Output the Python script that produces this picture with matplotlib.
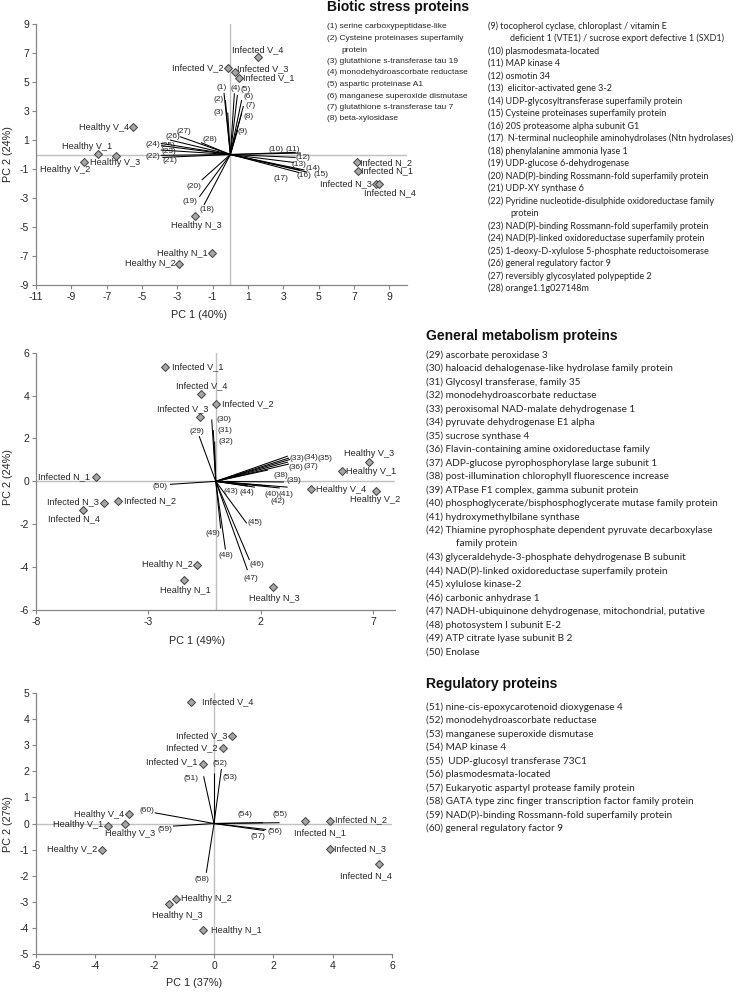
import matplotlib.pyplot as plt

W, H = 742, 992

# ---------------- Biotic stress proteins ----------------
bio_samples = ["Infected V_4", "Infected V_2", "Infected V_3", "Infected V_1",
               "Healthy V_4", "Healthy V_1", "Healthy V_3", "Healthy V_2",
               "Healthy N_3", "Healthy N_1", "Healthy N_2",
               "Infected N_2", "Infected N_1", "Infected N_3", "Infected N_4"]
bio_pc1 = [1.55, -0.11, 0.26, 0.47, -5.49, -7.47, -6.49, -8.28,
           -1.98, -1.04, -2.89, 7.15, 7.24, 8.24, 8.43]
bio_pc2 = [6.75, 5.99, 5.71, 5.30, 1.87, 0.01, -0.10, -0.49,
           -4.24, -6.82, -7.55, -0.54, -1.14, -2.03, -2.03]
bio_load_ids = list(range(1, 29))
bio_load_pc1 = [-0.36, -0.28, -0.15, 0.23, 0.40, 0.64, 0.74, 0.64, 0.42,
                3.70, 4.00, 3.70, 3.60, 4.20, 4.33, 3.94, 3.90,
                -1.49, -1.75, -1.62, -3.85, -3.94, -3.94, -3.94, -3.91, -3.42, -2.85, -1.66]
bio_load_pc2 = [4.26, 3.76, 2.89, 4.22, 4.10, 3.76, 3.34, 2.84, 1.69,
                0.15, 0.10, -0.20, -0.55, -1.07, -1.21, -1.07, -1.25,
                -3.48, -2.91, -1.76, -0.20, -0.06, 0.31, 0.77, 0.61, 1.00, 1.23, 0.82]

# ---------------- General metabolism proteins ----------------
gen_samples = ["Infected V_1", "Infected V_4", "Infected V_2", "Infected V_3",
               "Infected N_1", "Infected N_3", "Infected N_2", "Infected N_4",
               "Healthy N_2", "Healthy N_1", "Healthy N_3",
               "Healthy V_3", "Healthy V_1", "Healthy V_4", "Healthy V_2"]
gen_pc1 = [-2.27, -0.64, 0.01, -0.70, -5.34, -4.96, -4.34, -5.89,
           -0.82, -1.41, 2.56, 6.81, 5.63, 4.22, 7.12]
gen_pc2 = [5.35, 4.07, 3.60, 2.98, 0.21, -1.01, -0.92, -1.34,
           -3.88, -4.58, -4.95, 0.91, 0.47, -0.37, -0.47]
gen_load_ids = list(range(29, 51))
gen_load_pc1 = [-0.74, -0.18, -0.11, -0.05, 3.21, 3.26, 3.30, 3.21, 3.26, 2.33, 3.04,
                2.40, 3.20, 2.85, 1.43, 1.74, 1.38, 1.50, 1.41, 0.43, 0.22, -2.04]
gen_load_pc2 = [2.11, 2.89, 2.39, 1.85, 1.18, 1.09, 1.02, 0.90, 0.81, 0.53, -0.03,
                -0.22, -0.27, -0.31, -0.22, -0.27, -1.96, -3.67, -4.14, -3.18, -2.20, -0.14]

# ---------------- Regulatory proteins ----------------
reg_samples = ["Infected V_4", "Infected V_3", "Infected V_2", "Infected V_1",
               "Healthy V_4", "Healthy V_1", "Healthy V_3", "Healthy V_2",
               "Healthy N_2", "Healthy N_3", "Healthy N_1",
               "Infected N_1", "Infected N_2", "Infected N_3", "Infected N_4"]
reg_pc1 = [-0.79, 0.62, 0.30, -0.37, -2.87, -3.57, -2.99, -3.77,
           -1.29, -1.53, -0.37, 3.08, 3.92, 3.92, 5.55]
reg_pc2 = [4.66, 3.37, 2.89, 2.29, 0.36, -0.11, -0.01, -1.01,
           -2.90, -3.10, -4.07, 0.08, 0.09, -0.98, -1.55]
reg_load_ids = list(range(51, 61))
reg_load_pc1 = [-0.35, 0.00, 0.25, 1.65, 2.21, 1.76, 1.70, -0.26, -1.38, -2.00]
reg_load_pc2 = [1.81, 1.92, 2.09, 0.03, 0.03, -0.23, -0.27, -1.89, -0.10, 0.41]

# ---------------- protein names ----------------
bio_names_a = ["serine carboxypeptidase-like",
               "Cysteine proteinases superfamily\nprotein",
               "glutathione s-transferase tau 19",
               "monodehydroascorbate reductase",
               "aspartic proteinase A1",
               "manganese superoxide dismutase",
               "glutathione s-transferase tau 7",
               "beta-xylosidase"]
bio_names_b = ["tocopherol cyclase, chloroplast / vitamin E\ndeficient 1 (VTE1) / sucrose export defective 1 (SXD1)",
               "plasmodesmata-located",
               "MAP kinase 4",
               "osmotin 34",
               " elicitor-activated gene 3-2",
               "UDP-glycosyltransferase superfamily protein",
               "Cysteine proteinases superfamily protein",
               "20S proteasome alpha subunit G1",
               " N-terminal nucleophile aminohydrolases (Ntn hydrolases)",
               "phenylalanine ammonia lyase 1",
               "UDP-glucose 6-dehydrogenase",
               "NAD(P)-binding Rossmann-fold superfamily protein",
               "UDP-XY synthase 6",
               "Pyridine nucleotide-disulphide oxidoreductase family\nprotein",
               "NAD(P)-binding Rossmann-fold superfamily protein",
               "NAD(P)-linked oxidoreductase superfamily protein",
               "1-deoxy-D-xylulose 5-phosphate reductoisomerase",
               "general regulatory factor 9",
               "reversibly glycosylated polypeptide 2",
               "orange1.1g027148m"]
gen_names = ["ascorbate peroxidase 3",
             "haloacid dehalogenase-like hydrolase family protein",
             "Glycosyl transferase, family 35",
             "monodehydroascorbate reductase",
             "peroxisomal NAD-malate dehydrogenase 1",
             "pyruvate dehydrogenase E1 alpha",
             "sucrose synthase 4",
             "Flavin-containing amine oxidoreductase family",
             "ADP-glucose pyrophosphorylase large subunit 1",
             "post-illumination chlorophyll fluorescence increase",
             "ATPase F1 complex, gamma subunit protein",
             "phosphoglycerate/bisphosphoglycerate mutase family protein",
             "hydroxymethylbilane synthase",
             "Thiamine pyrophosphate dependent pyruvate decarboxylase\nfamily protein",
             "glyceraldehyde-3-phosphate dehydrogenase B subunit",
             "NAD(P)-linked oxidoreductase superfamily protein",
             "xylulose kinase-2",
             "carbonic anhydrase 1",
             "NADH-ubiquinone dehydrogenase, mitochondrial, putative",
             "photosystem I subunit E-2",
             "ATP citrate lyase subunit B 2",
             "Enolase"]
reg_names = ["nine-cis-epoxycarotenoid dioxygenase 4",
             "monodehydroascorbate reductase",
             "manganese superoxide dismutase",
             "MAP kinase 4",
             " UDP-glucosyl transferase 73C1",
             "plasmodesmata-located",
             "Eukaryotic aspartyl protease family protein",
             "GATA type zinc finger transcription factor family protein",
             "NAD(P)-binding Rossmann-fold superfamily protein",
             "general regulatory factor 9"]

# label placement (pixel offsets from the point)
bio_lab = [(0, 7, 'center'), (-5, 0, 'right'), (2, 3, 'left'), (4, 0, 'left'),
           (-4, 0, 'right'), (-11, 8, 'center'), (-1, -7, 'center'), (-19, -8, 'center'),
           (1, -10, 'center'), (-4, 0, 'right'), (-4, 0, 'right'),
           (3, 0, 'left'), (3, 0, 'left'), (-4, 0, 'right'), (11, -9, 'center')]
bio_vlab = [(-2, 5), (-7, 0), (-9, 0), (1, 5), (8, 6), (7, 3), (7, 1), (7, -3), (5, -2),
            (-20, 3), (-8, 4), (7, 0), (5, -2), (8, 2), (14, -2), (4, -5), (-18, -6),
            (3, -5), (-9, -5), (-8, -6), (8, -3), (-8, -1), (8, -1), (-8, -1), (7, 0),
            (3, 3), (4, 5), (9, 3)]
gen_lab = [(7, 0, 'left'), (0, 8, 'center'), (6, 0, 'left'), (-17, 9, 'center'),
           (-6, 0, 'right'), (-5, 1, 'right'), (6, 0, 'left'), (-9, -9, 'center'),
           (-5, 0, 'right'), (1, -11, 'center'), (1, -11, 'center'),
           (0, 8, 'center'), (4, 0, 'left'), (5, 0, 'left'), (-1, -8, 'center')]
gen_vlab = [(-2, 5), (12, 0), (12, 0), (11, 0), (9, -2), (22, 0), (35, 1), (8, -5),
            (22, -3), (13, -6), (10, 1), (2, -8), (-2, -7), (-2, -14), (-17, -5),
            (-8, -5), (8, 1), (7, -4), (3, -8), (0, -6), (-8, -5), (-10, -2)]
reg_lab = [(11, 0, 'left'), (-5, 0, 'right'), (-5, 0, 'right'), (-6, 2, 'right'),
           (-5, 0, 'right'), (-5, 2, 'right'), (5, -10, 'center'), (-5, 0, 'right'),
           (5, 1, 'left'), (9, -11, 'center'), (8, -1, 'left'),
           (15, -11, 'center'), (5, 1, 'left'), (4, 0, 'left'), (-13, -12, 'center')]
reg_vlab = [(-13, -2), (6, 10), (9, -9), (-18, 8), (0, 8), (9, -2), (-6, -6),
            (-4, -7), (-8, -3), (-8, 2)]

plt.rcParams['font.family'] = ['Liberation Sans', 'DejaVu Sans']
plt.rcParams['axes.unicode_minus'] = False
fig = plt.figure(figsize=(W / 100, H / 100), dpi=100)

AX_GRAY = '#868686'
TXT = '#262626'


def panel(rect_px, xlim, ylim, xticks, yticks, xlabel, ylabel, xlab_pos, ylab_pos,
          names, px, py, lab, ids, lx, ly, vlab):
    l, r, t, b = rect_px
    ax = fig.add_axes([l / W, 1 - b / H, (r - l) / W, (b - t) / H])
    ax.set_xlim(*xlim)
    ax.set_ylim(*ylim)
    ax.set_xticks(xticks)
    ax.set_yticks(yticks)
    for s in ['top', 'right']:
        ax.spines[s].set_visible(False)
    for s in ['left', 'bottom']:
        ax.spines[s].set_color(AX_GRAY)
        ax.spines[s].set_linewidth(0.9)
    ax.tick_params(direction='out', length=3, width=0.8, color=AX_GRAY,
                   labelsize=7.5, labelcolor=TXT, pad=2)
    ax.axhline(0, color='#c0c0c0', lw=1.0, zorder=0)
    ax.axvline(0, color='#c0c0c0', lw=1.0, zorder=0)
    ax.set_xlabel(xlabel, fontsize=7.8, color=TXT)
    ax.set_ylabel(ylabel, fontsize=7.8, color=TXT)
    ax.xaxis.set_label_coords(*xlab_pos)
    ax.yaxis.set_label_coords(*ylab_pos)

    for i, x, y, (dx, dy) in zip(ids, lx, ly, vlab):
        ax.plot([0, x], [0, y], color='black', lw=0.75, zorder=2, solid_capstyle='butt')
        ax.annotate(f'({i})', (x, y), xytext=(dx, dy), textcoords='offset pixels',
                    ha='center', va='center', fontsize=6.0, color=TXT)

    ax.plot(px, py, linestyle='none', marker='D', ms=4.2, mfc='#a6a6a6',
            mec='#404040', mew=0.7, zorder=3)
    for n, x, y, (dx, dy, ha) in zip(names, px, py, lab):
        ax.annotate(n, (x, y), xytext=(dx, dy), textcoords='offset pixels',
                    ha=ha, va='center', fontsize=6.6, color=TXT)
    return ax


panel((36, 407, 24, 285), (-11, 10), (-9, 9), range(-11, 10, 2), range(-9, 10, 2),
      'PC 1 (40%)', 'PC 2 (24%)', (0.44, -0.096), (-0.062, 0.5),
      bio_samples, bio_pc1, bio_pc2, bio_lab, bio_load_ids, bio_load_pc1, bio_load_pc2, bio_vlab)
panel((36, 395.5, 352.7, 610), (-8, 8), (-6, 6), [-8, -3, 2, 7], range(-6, 7, 2),
      'PC 1 (49%)', 'PC 2 (24%)', (0.448, -0.101), (-0.064, 0.517),
      gen_samples, gen_pc1, gen_pc2, gen_lab, gen_load_ids, gen_load_pc1, gen_load_pc2, gen_vlab)
panel((36, 392, 693, 954), (-6, 6), (-5, 5), range(-6, 7, 2), range(-5, 6, 1),
      'PC 1 (37%)', 'PC 2 (27%)', (0.444, -0.092), (-0.065, 0.498),
      reg_samples, reg_pc1, reg_pc2, reg_lab, reg_load_ids, reg_load_pc1, reg_load_pc2, reg_vlab)


def name_list(x0, y0, step, indent, first_id, names, size, family):
    y = y0
    for k, name in enumerate(names):
        lines = name.split('\n')
        fig.text(x0 / W, 1 - y / H, f'({first_id + k}) {lines[0]}', fontsize=size,
                 va='center', ha='left', color=TXT, family=family)
        y += step
        for extra in lines[1:]:
            fig.text((x0 + indent) / W, 1 - y / H, extra, fontsize=size,
                     va='center', ha='left', color=TXT, family=family)
            y += step


def heading(x, y, s):
    fig.text(x / W, 1 - y / H, s, fontsize=10, fontweight='bold', va='center',
             ha='left', color='#111111')


heading(327, 7, 'Biotic stress proteins')
name_list(327, 27, 11.5, 14, 1, bio_names_a, 6.0, ['Liberation Sans', 'DejaVu Sans'])
name_list(488, 26, 12.5, 22, 9, bio_names_b, 6.5, ['Lato', 'DejaVu Sans'])
heading(426, 336, 'General metabolism proteins')
name_list(426, 355, 13.5, 30, 29, gen_names, 7.2, ['Lato', 'DejaVu Sans'])
heading(426, 684, 'Regulatory proteins')
name_list(426, 707, 13.5, 30, 51, reg_names, 7.2, ['Lato', 'DejaVu Sans'])

fig.savefig('out.png', dpi=100)
